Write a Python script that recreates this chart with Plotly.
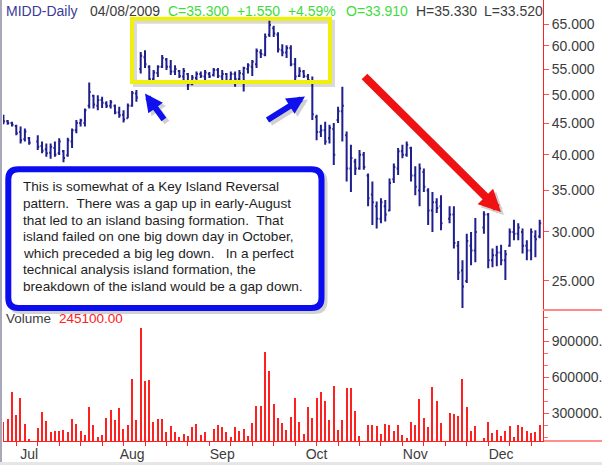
import plotly.graph_objects as go

# ---------------- data ----------------
high = [46.4,45.5,45.2,44.7,44.4,44.1,42.7,None,43.0,42.0,41.7,41.7,42.0,42.5,40.7,42.6,44.1,45.5,45.7,47.5,
        52.3,50.0,49.9,49.6,48.8,49.0,48.2,47.8,47.2,48.4,50.7,50.9,58.6,59.0,55.8,54.8,55.8,57.95,57.3,56.9,
        55.8,54.8,55.2,54.2,53.8,54.5,54.5,54.8,54.4,55.2,55.2,54.8,54.2,54.5,54.5,54.8,55.5,56.2,56.9,59.4,
        59.2,62.8,66.0,64.6,63.1,60.3,60.1,60.1,57.3,55.4,54.8,54.0,53.5,46.4,44.7,45.2,44.7,45.0,47.8,51.5,
        43.6,41.5,39.4,40.7,40.4,37.3,36.2,33.6,34.0,33.8,36.6,38.7,41.0,41.5,42.0,41.2,38.3,38.7,38.0,35.3,
        34.8,34.0,34.4,None,33.0,33.0,29.0,27.0,29.8,30.0,31.6,None,32.4,32.2,28.2,28.5,28.6,28.06,30.4,31.4,
        31.0,30.4,29.1,30.4,30.2,31.4]
low = [44.8,44.7,44.4,43.0,41.7,42.0,41.5,None,40.7,40.2,39.7,39.4,39.7,39.95,38.9,39.7,41.0,43.3,44.4,44.4,
       47.5,47.5,47.2,47.6,47.6,47.5,46.5,45.9,45.1,45.8,47.8,48.7,54.1,55.2,52.5,52.5,53.4,55.2,54.8,53.8,
       53.8,53.2,52.5,50.9,51.8,52.8,53.2,52.8,53.2,53.5,53.2,52.5,52.2,52.5,51.5,52.5,50.6,54.1,53.6,55.2,
       57.3,57.7,62.0,62.0,58.5,57.7,57.3,55.6,52.8,53.4,53.2,52.4,45.5,42.2,42.7,41.5,41.7,38.5,45.0,42.0,
       36.2,34.8,37.1,37.8,37.8,33.0,30.8,30.4,31.0,31.2,32.4,36.0,37.1,39.45,39.7,36.2,34.4,33.0,34.8,30.8,
       30.0,32.2,30.2,None,31.0,28.2,25.1,22.6,24.8,26.5,26.8,None,29.8,26.2,26.3,26.4,26.5,25.1,28.4,29.1,
       29.1,27.7,27.0,27.0,27.3,29.3]
open_ = [46.0,45.3,45.0,44.5,43.5,42.4,42.5,None,42.0,41.3,40.8,40.3,41.0,40.2,40.5,39.9,42.0,43.8,45.0,45.0,
         48.0,49.8,48.0,49.0,48.4,48.0,48.0,46.8,46.4,45.8,48.0,50.2,55.0,57.5,55.5,53.0,54.2,55.5,57.0,55.5,
         54.5,54.6,53.5,54.0,52.0,53.2,54.0,53.5,54.0,53.8,54.8,53.5,54.0,52.8,54.0,53.0,54.0,55.0,55.5,56.0,
         58.5,58.0,62.5,64.0,62.5,59.0,58.5,59.5,56.0,53.6,54.5,53.5,52.5,46.0,43.5,43.8,42.5,44.0,45.5,47.0,
         43.0,38.0,39.0,38.0,40.0,37.0,34.5,33.0,31.5,33.0,32.5,36.5,38.0,40.5,40.0,41.0,37.0,35.0,37.5,35.0,
         32.5,33.5,33.0,None,31.5,32.0,28.5,26.0,25.0,28.5,28.0,None,30.5,32.0,27.0,27.5,27.8,27.0,28.5,30.0,
         29.8,30.0,28.5,28.0,29.5,29.5]
close = [45.3,45.0,44.7,43.3,42.2,43.6,41.8,None,41.2,40.6,40.2,41.2,40.0,42.0,39.5,42.2,43.8,45.0,45.4,47.2,
         50.5,48.2,49.0,48.5,48.0,48.6,46.8,46.3,45.6,48.0,50.3,49.5,57.8,56.0,53.0,54.3,55.5,57.3,55.5,54.5,
         55.0,53.6,54.6,52.0,53.3,54.0,53.6,54.3,53.5,54.8,53.6,54.0,52.6,54.0,53.0,54.2,55.2,55.8,56.5,58.8,
         58.2,62.0,64.8,62.8,59.2,58.5,59.5,56.0,53.5,54.6,53.6,52.8,46.5,43.5,43.8,42.0,44.2,40.0,47.0,48.0,
         38.0,39.5,38.0,40.0,38.2,34.0,33.5,31.5,33.5,32.0,36.0,38.2,40.5,40.0,41.5,37.0,35.5,38.0,35.5,32.5,
         33.5,32.8,31.0,None,32.0,28.8,25.8,24.5,29.0,28.0,30.0,None,32.0,27.0,27.5,27.8,27.0,27.6,30.0,29.8,
         30.5,28.5,28.0,30.0,29.2,31.0]
volume = [227000,250000,478000,283000,428000,206000,81000,None,178000,311000,233000,144000,153000,147000,158000,
          142000,250000,206000,147000,117000,353000,200000,103000,117000,261000,325000,242000,339000,167000,197000,
          583000,242000,1011000,567000,575000,222000,250000,250000,139000,194000,139000,103000,122000,111000,181000,
          208000,117000,139000,None,167000,200000,183000,139000,103000,186000,153000,167000,108000,217000,358000,
          358000,806000,653000,372000,261000,217000,158000,267000,422000,222000,122000,353000,256000,422000,472000,
          397000,239000,525000,158000,239000,506000,511000,317000,108000,None,200000,200000,189000,122000,208000,
          203000,150000,203000,114000,89000,222000,197000,417000,256000,183000,514000,397000,217000,None,297000,
          292000,275000,583000,347000,153000,194000,None,94000,225000,133000,158000,108000,153000,192000,103000,
          200000,186000,150000,133000,139000,200000]
days = list(range(len(high)))
month_pos = [6, 30, 51, 73, 96, 116]
month_txt = ["Jul", "Aug", "Sep", "Oct", "Nov", "Dec"]
price_ticks = [25, 30, 35, 40, 45, 50, 55, 60, 65]
vol_ticks = [300000, 600000, 900000]

note_lines = [
    "This is somewhat of a Key Island Reversal",
    "pattern.  There was a gap up in early-August",
    "that led to an island basing formation.  That",
    "island failed on one big down day in October,",
    "which preceded a big leg down.   In a perfect",
    "technical analysis island formation, the",
    "breakdown of the island would be a gap down.",
]

# ---------------- layout helpers ----------------
W, H = 602, 465
ML, MR, MT, MB = 3, 59, 0, 24
PW, PH = W - ML - MR, H - MT - MB


def px(x):
    return (x - ML) / PW


def py(y):
    return 1 - (y - MT) / PH


NAVY = "#1f1f8f"
RED = "#ff2020"
GRAY = "#3c3c3c"
GREEN = "#3fdc3f"
FONT = "Liberation Sans, Arial, sans-serif"

fig = go.Figure()
fig.add_trace(go.Ohlc(x=days, open=open_, high=high, low=low, close=close,
                      increasing=dict(line=dict(color=NAVY, width=2)),
                      decreasing=dict(line=dict(color=NAVY, width=2)),
                      tickwidth=0.35, xaxis="x", yaxis="y", hoverinfo="skip"))
fig.add_trace(go.Bar(x=days, y=volume, width=0.28, marker=dict(color=RED, line=dict(width=0)),
                     xaxis="x", yaxis="y2", hoverinfo="skip"))

vdom = (441 - 310) / PH

fig.update_layout(
    width=W, height=H, margin=dict(l=ML, r=MR, t=MT, b=MB, pad=0, autoexpand=False),
    paper_bgcolor="white", plot_bgcolor="white", showlegend=False,
    font=dict(family=FONT, size=14, color=GRAY),
    bargap=0,
    xaxis=dict(domain=[0, 1], anchor="y2", range=[-0.1, 125.77], rangeslider=dict(visible=False),
               automargin=False,
               tickmode="array", tickvals=month_pos, ticktext=month_txt, ticks="",
               showgrid=False, zeroline=False, showline=True, linecolor=RED, linewidth=1,
               tickfont=dict(size=14, color=GRAY, family=FONT),
               minor=dict(tickmode="linear", tick0=3, dtick=5, ticks="outside", ticklen=4,
                          tickcolor=RED, tickwidth=1, showgrid=False)),
    yaxis=dict(domain=[vdom, 1], anchor="x", side="right", type="log", automargin=False,
               range=[1.351, 1.852], tickmode="array", tickvals=price_ticks,
               ticktext=["%.3f" % v for v in price_ticks], ticks="outside", ticklen=5,
               tickcolor="#ff5050", showgrid=False, zeroline=False, showline=True,
               linecolor=RED, linewidth=1, tickfont=dict(size=14, color=GRAY, family=FONT)),
    yaxis2=dict(domain=[0, vdom], anchor="x", side="right", range=[66667, 1158333], automargin=False,
                tickmode="array", tickvals=vol_ticks, ticktext=["%.3f" % v for v in vol_ticks],
                ticks="outside", ticklen=5, tickcolor="#ff5050", showgrid=False, zeroline=False,
                showline=True, linecolor=RED, linewidth=1,
                tickfont=dict(size=14, color=GRAY, family=FONT),
                minor=dict(tickmode="linear", tick0=0, dtick=100000, ticks="outside", ticklen=4,
                           tickcolor="#ff7070", tickwidth=1, showgrid=False)),
)

shapes = []
# window frame bits
shapes.append(dict(type="line", xref="paper", yref="paper", x0=px(1), x1=px(1), y0=py(0), y1=py(462),
                   line=dict(color="#a8a8b8", width=2)))
shapes.append(dict(type="rect", xref="paper", yref="paper", x0=px(0), x1=px(602), y0=py(462), y1=py(466),
                   fillcolor="#e6e6e6", line=dict(width=0)))
# pane separator on the axis strip and baseline extension
shapes.append(dict(type="line", xref="paper", yref="paper", x0=px(543), x1=px(602), y0=py(310), y1=py(310),
                   line=dict(color="#ff8888", width=2)))
shapes.append(dict(type="line", xref="paper", yref="paper", x0=px(543), x1=px(602), y0=py(441), y1=py(441),
                   line=dict(color=RED, width=1)))

# yellow box with soft shadow
for off, col, w in [(3, "rgba(0,0,0,0.15)", 4), (0, "#f0f010", 4)]:
    shapes.append(dict(type="rect", xref="paper", yref="paper",
                       x0=px(132 + off), x1=px(330 + off), y0=py(82 + off), y1=py(18.7 + off),
                       line=dict(color=col, width=w), fillcolor="rgba(0,0,0,0)"))


def rounded(x0, y0, x1, y1, r):
    X0, X1 = px(x0), px(x1)
    Y0, Y1 = py(y0), py(y1)
    rx, ry = r / PW, r / PH
    return (f"M {X0 + rx},{Y0} L {X1 - rx},{Y0} Q {X1},{Y0} {X1},{Y0 - ry} "
            f"L {X1},{Y1 + ry} Q {X1},{Y1} {X1 - rx},{Y1} L {X0 + rx},{Y1} "
            f"Q {X0},{Y1} {X0},{Y1 + ry} L {X0},{Y0 - ry} Q {X0},{Y0} {X0 + rx},{Y0} Z")


shapes.append(dict(type="path", xref="paper", yref="paper", path=rounded(11.5, 172.5, 324.5, 311, 10),
                   line=dict(color="rgba(0,0,0,0.18)", width=6), fillcolor="rgba(0,0,0,0)"))
shapes.append(dict(type="path", xref="paper", yref="paper", path=rounded(8.3, 169.3, 321.5, 308, 10),
                   line=dict(color="#0c0cf0", width=6), fillcolor="white"))
fig.update_layout(shapes=shapes)

ann = []


def txt(s, x, y, color, size=14, family=FONT):
    ann.append(dict(text=s, xref="paper", yref="paper", x=px(x), y=py(y), xanchor="left",
                    yanchor="middle", showarrow=False, font=dict(color=color, size=size, family=family)))


txt("MIDD-Daily", 3.5, 11, "#3b3b98")
txt("04/08/2009", 88, 11, GRAY)
txt("C=35.300  +1.550  +4.59%", 166, 11, GREEN)
txt("O=33.910", 344, 11, GREEN)
txt("H=35.330", 414, 11, GRAY)
txt("L=33.520", 482, 11, GRAY)
txt("Volume", 3.5, 318, GRAY, 13.5)
txt("245100.00", 57, 318, RED, 13.5)

for k, line in enumerate(note_lines):
    txt(line, 20.5, 187 + 16.5 * k, "#1e1e1e", 13.6)


def arrow(tail, head, color, width, size):
    ann.append(dict(text="", xref="paper", yref="paper", x=px(head[0]), y=py(head[1]),
                    ax=tail[0] - head[0], ay=tail[1] - head[1], axref="pixel", ayref="pixel",
                    showarrow=True, arrowhead=2, arrowsize=size, arrowwidth=width, arrowcolor=color,
                    standoff=0))


for tail, head, col, w, s in [((165, 121), (145, 93.5), "#1010ee", 6, 0.6),
                              ((266, 121), (305, 96.5), "#1010ee", 6, 0.6),
                              ((363, 75), (501, 212), "#f01212", 8, 0.55)]:
    arrow((tail[0] + 3, tail[1] + 3), (head[0] + 3, head[1] + 3), "rgba(0,0,0,0.18)", w, s)
    arrow(tail, head, col, w, s)

fig.update_layout(annotations=ann)
fig.write_html("out.html", config={"displayModeBar": False},
               post_script="document.body.style.margin='0';document.body.style.overflow='hidden';")
